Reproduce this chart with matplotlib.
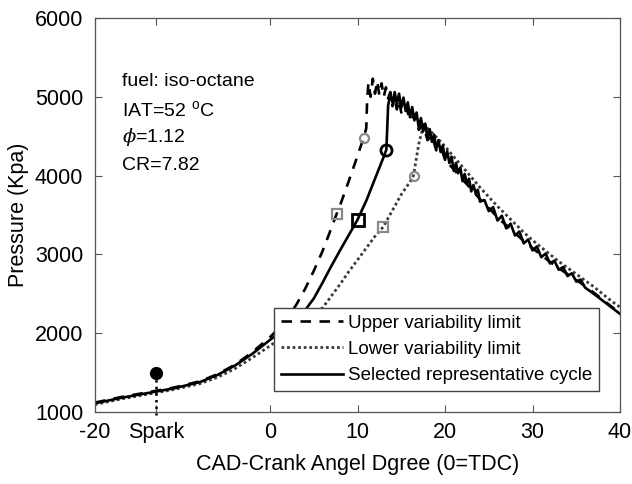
import matplotlib
matplotlib.use("Agg")
from matplotlib import pyplot as plt

plt.rcParams['font.family'] = ['Liberation Sans', 'DejaVu Sans']
plt.rcParams['mathtext.fontset'] = 'custom'
plt.rcParams['mathtext.rm'] = 'Liberation Sans'

# selected representative cycle (solid)
cad_sel = [-20, -17, -14, -11, -8, -6, -4, -2, 0, 1, 2, 3, 4, 5, 6, 7, 8, 9, 10, 11, 12, 13, 13.3,
           13.5, 13.75, 14.0, 14.25, 14.5, 14.75, 15.0, 15.25, 15.5, 15.75, 16.0, 16.25, 16.5,
           16.75, 17.0, 17.25, 17.5, 17.75, 18.0, 18.25, 18.5, 18.75, 19.0, 19.25, 19.5, 19.75,
           20.0, 20.25, 20.5, 20.75, 21.0, 21.25, 21.5, 21.75, 22.0, 22.25, 22.5, 22.75, 23.0,
           23.25, 23.5, 23.75, 24.0,
           24.5, 25.0, 25.5, 26.0, 26.5, 27.0, 27.5, 28.0, 28.5, 29.0, 29.5, 30.0, 30.5, 31.0,
           31.5, 32.0, 32.5, 33.0, 33.5, 34.0, 34.5, 35.0, 35.5, 36.0, 37, 38, 39, 40]
p_sel = [1110, 1180, 1240, 1300, 1380, 1470, 1590, 1740, 1915, 2000, 2100, 2200, 2290, 2440, 2640,
         2850, 3050, 3245, 3440, 3680, 3960, 4240, 4330,
         4890, 5030, 4930, 5060, 4910, 5040, 4860, 4990, 4820, 4930, 4740, 4870, 4700,
         4800, 4610, 4730, 4560, 4660, 4470, 4590, 4430, 4520, 4340, 4450, 4300, 4380,
         4200, 4310, 4160, 4240, 4060, 4160, 4030, 4100, 3930, 4020, 3900, 3960, 3800,
         3880, 3780, 3820, 3670,
         3690, 3550, 3600, 3430, 3490, 3330, 3390, 3240, 3290, 3140, 3190, 3050, 3100, 2965,
         3010, 2885, 2920, 2805, 2840, 2725, 2760, 2655, 2680, 2580, 2500, 2415, 2330, 2245]

# upper variability limit (dashed)
cad_up = [-20, -17, -14, -11, -8, -6, -4, -2, 0, 1, 2, 3, 4, 5, 6, 7, 7.6, 8, 9, 10, 10.7, 11.0,
          11.1, 11.25, 11.5, 11.75, 12.0, 12.25, 12.5, 12.75, 13.0, 13.25, 13.5, 13.75, 14.0,
          14.25, 14.5, 14.75, 15.0, 15.5, 16.0, 16.5, 17.0, 17.5, 18.0, 18.5, 19.0, 19.5, 20,
          21, 22, 23, 24, 25, 26, 27, 28, 29, 30, 31, 32, 33, 34, 35, 36, 37, 38, 39, 40]
p_up = [1120, 1190, 1250, 1310, 1390, 1480, 1600, 1760, 1950, 2060, 2200, 2360, 2560, 2790, 3040,
        3330, 3510, 3620, 3930, 4250, 4480, 4600,
        4950, 5180, 5000, 5230, 5040, 5200, 5020, 5170, 5000, 5120, 4980, 5060, 4880,
        5000, 4840, 4960, 4800, 4900, 4700, 4780, 4580, 4650, 4450, 4510, 4320, 4380, 4200,
        4080, 3950, 3830, 3700, 3590, 3470, 3370, 3270, 3170, 3080, 2990, 2905, 2825, 2750,
        2675, 2600, 2515, 2430, 2340, 2255]

# lower variability limit (dotted)
cad_lo = [-20, -17, -14, -11, -8, -6, -4, -2, 0, 1, 2, 3, 4, 5, 6, 7, 8, 9, 10, 11, 12, 12.95, 14,
          15, 16, 16.4, 17, 17.5, 18, 19, 20, 21, 22, 23, 24, 25, 26, 27, 28, 29, 30, 31, 32, 33,
          34, 35, 36, 37, 38, 39, 40]
p_lo = [1095, 1165, 1225, 1285, 1360, 1440, 1550, 1690, 1840, 1920, 2000, 2090, 2170, 2250, 2320,
        2470, 2620, 2780, 2930, 3080, 3230, 3350, 3560, 3760, 3920, 4000, 4400, 4620, 4600, 4490,
        4370, 4240, 4110, 3980, 3850, 3730, 3610, 3500, 3390, 3280, 3180, 3090, 3000, 2910, 2830,
        2750, 2670, 2590, 2500, 2410, 2330]

# markers on each curve: (square, circle)
mk_up = [(7.6, 3510), (10.7, 4480)]
mk_sel = [(10.0, 3440), (13.3, 4330)]
mk_lo = [(12.95, 3350), (16.4, 4000)]

spark_cad = -13
spark_p = 1500

xticks = [-20, spark_cad, 0, 10, 20, 30, 40]
xticklabels = ['-20', 'Spark', '0', '10', '20', '30', '40']
yticks = [1000, 2000, 3000, 4000, 5000, 6000]

fig = plt.figure(figsize=(6.32, 4.84), dpi=100)
ax = fig.add_axes([95 / 632, 72 / 484, 525 / 632, 394 / 484])

l_lo, = ax.plot(cad_lo, p_lo, color='#3c3c3c', lw=2.0, linestyle=(0, (1, 1.0)),
                label='Lower variability limit')
l_up, = ax.plot(cad_up, p_up, color='black', lw=1.9, dashes=(4, 3.2),
                label='Upper variability limit')
l_sel, = ax.plot(cad_sel, p_sel, color='black', lw=1.9, label='Selected representative cycle')

gray = '#8a8a8a'
for (x, y), m in zip(mk_up, ['s', 'o']):
    ax.plot(x, y, marker=m, ms=6.5, mfc='none', mec=gray, mew=1.6, zorder=5)
for (x, y), m in zip(mk_lo, ['s', 'o']):
    ax.plot(x, y, marker=m, ms=6.5, mfc='none', mec=gray, mew=1.6, zorder=5)
for (x, y), m in zip(mk_sel, ['s', 'o']):
    ax.plot(x, y, marker=m, ms=8, mfc='none', mec='black', mew=2, zorder=5)

ax.plot([spark_cad, spark_cad], [spark_p, 960], color='black', lw=1.8, linestyle=':',
        clip_on=False)
ax.plot(spark_cad, spark_p, 'o', color='black', ms=8.5, zorder=6)

ax.set_xlim(-20, 40)
ax.set_ylim(1000, 6000)
ax.set_xticks(xticks)
ax.set_xticklabels(xticklabels)
ax.set_yticks(yticks)
ax.tick_params(direction='in', length=5, width=0.8, color='#555555', labelsize=15.5,
               top=True, right=True)
ax.tick_params(axis='y', pad=8.4)
ax.tick_params(axis='x', pad=7)
for s in ax.spines.values():
    s.set_color('#555555')
    s.set_linewidth(0.9)

ax.set_xlabel('CAD-Crank Angel Dgree (0=TDC)', fontsize=15.5, labelpad=8)
ax.set_ylabel('Pressure (Kpa)', fontsize=15.5, labelpad=4)

ax.text(0.051, 0.827, 'fuel: iso-octane', transform=ax.transAxes, fontsize=14)
ax.text(0.051, 0.749, r'IAT=52 $^{\rm o}$C', transform=ax.transAxes, fontsize=14)
ax.text(0.051, 0.685, r'$\phi$=1.12', transform=ax.transAxes, fontsize=14,
        math_fontfamily='dejavuserif')
ax.text(0.051, 0.614, 'CR=7.82', transform=ax.transAxes, fontsize=14)

leg = ax.legend(handles=[l_up, l_lo, l_sel], loc='lower left', bbox_to_anchor=(0.341, 0.053),
                borderaxespad=0, fontsize=13.5, fancybox=False, framealpha=1,
                edgecolor='#444444', handlelength=3.3, handletextpad=0.25,
                labelspacing=0.48, borderpad=0.37)
leg.get_frame().set_linewidth(1.0)

plt.savefig('out.png', dpi=100)
